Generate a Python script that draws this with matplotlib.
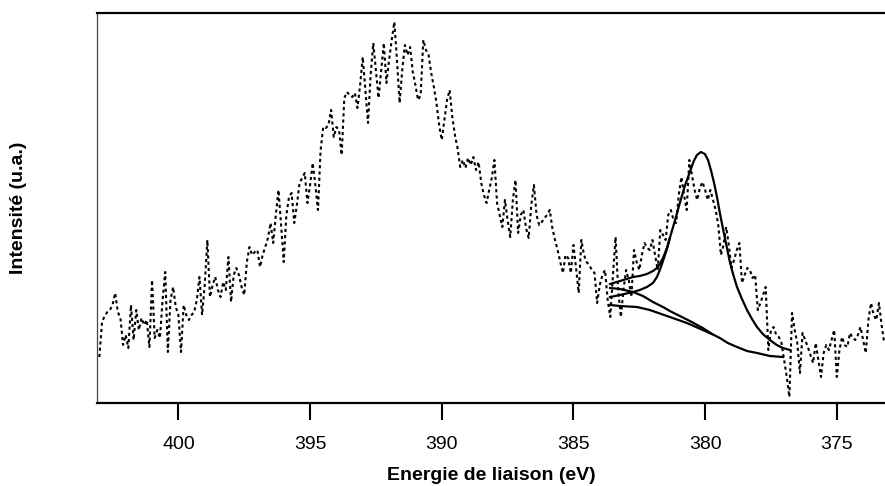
import matplotlib
matplotlib.use("Agg")
import matplotlib.pyplot as plt

plt.rcParams['font.family'] = ['Liberation Sans', 'DejaVu Sans']

# Spectre mesure (eV, intensite en u.a.)
energy = [
    403.0, 402.9, 402.8, 402.7, 402.6, 402.5, 402.4, 402.3, 402.2, 402.1,
    402.0, 401.9, 401.8, 401.7, 401.6, 401.5, 401.4, 401.3, 401.2, 401.1,
    401.0, 400.9, 400.8, 400.7, 400.6, 400.5, 400.4, 400.3, 400.2, 400.1,
    400.0, 399.9, 399.8, 399.7, 399.6, 399.5, 399.4, 399.3, 399.2, 399.1,
    399.0, 398.9, 398.8, 398.7, 398.6, 398.5, 398.4, 398.3, 398.2, 398.1,
    398.0, 397.9, 397.8, 397.7, 397.6, 397.5, 397.4, 397.3, 397.2, 397.1,
    397.0, 396.9, 396.8, 396.7, 396.6, 396.5, 396.4, 396.3, 396.2, 396.1,
    396.0, 395.9, 395.8, 395.7, 395.6, 395.5, 395.4, 395.3, 395.2, 395.1,
    395.0, 394.9, 394.8, 394.7, 394.6, 394.5, 394.4, 394.3, 394.2, 394.1,
    394.0, 393.9, 393.8, 393.7, 393.6, 393.5, 393.4, 393.3, 393.2, 393.1,
    393.0, 392.9, 392.8, 392.7, 392.6, 392.5, 392.4, 392.3, 392.2, 392.1,
    392.0, 391.9, 391.8, 391.7, 391.6, 391.5, 391.4, 391.3, 391.2, 391.1,
    391.0, 390.9, 390.8, 390.7, 390.6, 390.5, 390.4, 390.3, 390.2, 390.1,
    390.0, 389.9, 389.8, 389.7, 389.6, 389.5, 389.4, 389.3, 389.2, 389.1,
    389.0, 388.9, 388.8, 388.7, 388.6, 388.5, 388.4, 388.3, 388.2, 388.1,
    388.0, 387.9, 387.8, 387.7, 387.6, 387.5, 387.4, 387.3, 387.2, 387.1,
    387.0, 386.9, 386.8, 386.7, 386.6, 386.5, 386.4, 386.3, 386.2, 386.1,
    386.0, 385.9, 385.8, 385.7, 385.6, 385.5, 385.4, 385.3, 385.2, 385.1,
    385.0, 384.9, 384.8, 384.7, 384.6, 384.5, 384.4, 384.3, 384.2, 384.1,
    384.0, 383.9, 383.8, 383.7, 383.6, 383.5, 383.4, 383.3, 383.2, 383.1,
    383.0, 382.9, 382.8, 382.7, 382.6, 382.5, 382.4, 382.3, 382.2, 382.1,
    382.0, 381.9, 381.8, 381.7, 381.6, 381.5, 381.4, 381.3, 381.2, 381.1,
    381.0, 380.9, 380.8, 380.7, 380.6, 380.5, 380.4, 380.3, 380.2, 380.1,
    380.0, 379.9, 379.8, 379.7, 379.6, 379.5, 379.4, 379.3, 379.2, 379.1,
    379.0, 378.9, 378.8, 378.7, 378.6, 378.5, 378.4, 378.3, 378.2, 378.1,
    378.0, 377.9, 377.8, 377.7, 377.6, 377.5, 377.4, 377.3, 377.2, 377.1,
    377.0, 376.9, 376.8, 376.7, 376.6, 376.5, 376.4, 376.3, 376.2, 376.1,
    376.0, 375.9, 375.8, 375.7, 375.6, 375.5, 375.4, 375.3, 375.2, 375.1,
    375.0, 374.9, 374.8, 374.7, 374.6, 374.5, 374.4, 374.3, 374.2, 374.1,
    374.0, 373.9, 373.8, 373.7, 373.6, 373.5, 373.4, 373.3, 373.2,
]
intensity = [
    46, 81, 87, 91, 93, 98, 110, 91, 85, 58,
    68, 55, 98, 63, 93, 73, 85, 78, 83, 56,
    123, 65, 73, 65, 103, 131, 51, 103, 116, 96,
    88, 51, 98, 88, 83, 88, 91, 103, 126, 88,
    118, 163, 106, 118, 126, 113, 106, 121, 113, 146,
    101, 128, 135, 128, 116, 108, 141, 156, 148, 151,
    153, 136, 148, 156, 165, 180, 160, 188, 213, 178,
    141, 188, 206, 210, 180, 198, 220, 225, 230, 200,
    218, 240, 218, 193, 253, 276, 275, 278, 293, 266,
    276, 273, 248, 305, 311, 308, 306, 310, 295, 318,
    346, 313, 280, 328, 360, 333, 305, 333, 360, 320,
    343, 363, 381, 343, 300, 333, 358, 348, 356, 331,
    318, 303, 308, 363, 353, 348, 330, 316, 300, 278,
    263, 283, 303, 313, 286, 268, 255, 236, 243, 235,
    245, 238, 246, 233, 241, 220, 208, 200, 213, 225,
    243, 200, 188, 176, 203, 183, 166, 203, 223, 170,
    188, 193, 175, 165, 198, 218, 188, 178, 181, 185,
    188, 193, 175, 163, 153, 141, 130, 148, 145, 130,
    158, 135, 110, 163, 148, 141, 138, 133, 130, 100,
    118, 128, 133, 103, 86, 128, 166, 113, 86, 113,
    133, 123, 106, 153, 141, 133, 148, 160, 155, 153,
    163, 148, 133, 173, 168, 163, 188, 193, 183, 180,
    208, 226, 208, 193, 243, 228, 213, 203, 215, 221,
    213, 203, 213, 203, 193, 178, 148, 158, 176, 158,
    135, 143, 153, 160, 120, 128, 135, 133, 125, 128,
    93, 100, 108, 116, 53, 73, 76, 68, 66, 60,
    43, 26, 6, 90, 73, 60, 30, 70, 63, 56,
    48, 40, 60, 43, 26, 50, 58, 53, 63, 73,
    26, 53, 66, 58, 56, 70, 65, 63, 68, 76,
    63, 50, 83, 100, 88, 83, 100, 78, 60,
]

# Ajustement : enveloppe, composante et fonds
fit_energy = [383.61, 383.23, 382.74, 382.48, 382.21, 381.98, 381.83, 381.72,
              381.60, 381.45, 381.34, 381.15, 380.96, 380.77, 380.58, 380.43,
              380.31, 380.16, 380.01, 379.89, 379.78, 379.66, 379.55, 379.44,
              379.32, 379.17, 379.06, 378.94, 378.79, 378.60, 378.41, 378.22,
              378.03, 377.81, 377.54, 377.28, 377.05, 376.78]
fit_total = [119, 122, 126, 127, 129, 132, 135, 139,
             145, 155, 165, 182, 200, 217, 231, 242,
             248, 251, 249, 243, 233, 220, 206, 190,
             174, 155, 141, 129, 116, 104, 93, 84,
             76, 69, 63, 58, 55, 53]

comp_energy = [383.61, 383.23, 382.74, 382.48, 382.21, 381.98, 381.83, 381.72,
               381.60, 381.45, 381.34]
comp_values = [106, 108, 111, 113, 116, 120, 126, 133, 142, 154, 165]

bg1_energy = [383.61, 383.23, 382.59, 382.10, 381.34, 380.69, 380.09, 379.74,
              379.44, 379.14, 378.79, 378.41, 378.03, 377.54, 377.05]
bg1_values = [98, 97, 96, 93, 86, 80, 73, 69, 65, 60, 56, 52, 50, 47, 46]

bg2_energy = [383.61, 383.23, 382.74, 382.36, 381.98, 381.60, 381.34, 380.96,
              380.58, 380.09, 379.74]
bg2_values = [115, 114, 111, 107, 101, 96, 92, 87, 82, 75, 69]

xticks = [400, 395, 390, 385, 380, 375]

fig = plt.figure(figsize=(8.85, 4.86), dpi=100)
ax = fig.add_axes([97 / 885, 83 / 486, 788 / 885, 390 / 486])

ax.plot(energy, intensity, color='black', lw=1.5, dashes=(1.5, 1.5))
ax.plot(fit_energy, fit_total, color='black', lw=1.6)
ax.plot(comp_energy, comp_values, color='black', lw=1.6)
ax.plot(bg1_energy, bg1_values, color='black', lw=1.6)
ax.plot(bg2_energy, bg2_values, color='black', lw=1.6)

ax.set_xlim(403.09, 373.17)
ax.set_ylim(0, 390)
ax.set_xticks(xticks)
ax.set_xticklabels([str(t) for t in xticks])
ax.set_yticks([])
ax.tick_params(axis='x', direction='out', length=12, width=1.5, pad=11.5,
               labelsize=14)

ax.spines['right'].set_visible(False)
ax.spines['top'].set_linewidth(1.6)
ax.spines['bottom'].set_linewidth(1.6)
ax.spines['left'].set_linewidth(0.9)
ax.spines['left'].set_color('#444444')

ax.set_xlabel('Energie de liaison (eV)', fontsize=14, fontweight='bold',
              labelpad=10)
fig.text(19 / 885, 1 - 208 / 486, 'Intensité (u.a.)', rotation=90,
         ha='center', va='center', fontsize=14, fontweight='bold')

fig.savefig('out.png', dpi=100)
